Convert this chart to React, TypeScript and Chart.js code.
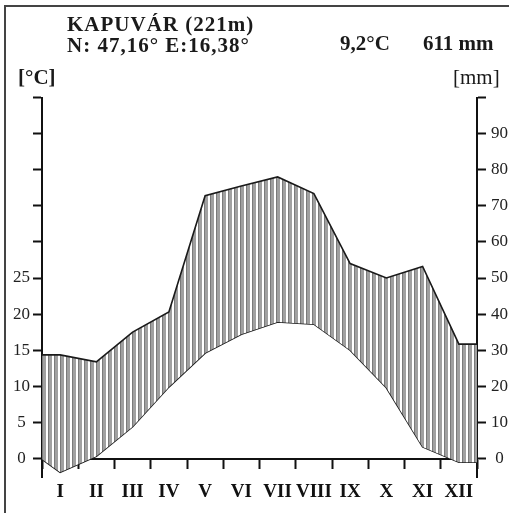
import React, { useEffect, useRef } from 'react';
import { Chart, registerables } from 'chart.js';

Chart.register(...registerables);

// ---- data ----
const months = ['I', 'II', 'III', 'IV', 'V', 'VI', 'VII', 'VIII', 'IX', 'X', 'XI', 'XII'];
const temperature = [-1.9, 0.3, 4.4, 9.9, 14.6, 17.2, 18.9, 18.6, 15.0, 9.8, 1.6, -0.5];
const precipitation = [28.7, 26.8, 35.0, 40.6, 72.8, 75.5, 78.0, 73.4, 54.0, 50.0, 53.2, 31.7];
// values drawn at the left (start of January) and right (end of December) edges
const temperatureEdges = [-0.1, -0.5];
const precipitationEdges = [28.7, 31.7];
const temperatureTicks = [0, 5, 10, 15, 20, 25, 30, 35, 40, 45, 50];
const precipitationTicks = [0, 10, 20, 30, 40, 50, 60, 70, 80, 90, 100];
const temperatureLabelMax = 25;
const precipitationLabelMax = 90;

const stationName = 'KAPUVÁR (221m)';
const stationCoords = 'N: 47,16° E:16,38°';
const annualTemp = '9,2°C';
const annualPrecip = '611 mm';
const tempUnit = '[°C]';
const precipUnit = '[mm]';

const FONT = "'Liberation Serif', 'Times New Roman', 'DejaVu Serif', serif";

function buildPoints(values: number[], edges: number[]) {
  const pts = [{ x: 0, y: edges[0] }];
  values.forEach((v, i) => pts.push({ x: i + 0.5, y: v }));
  pts.push({ x: months.length, y: edges[1] });
  return pts;
}

export default function App() {
  const canvasRef = useRef<HTMLCanvasElement | null>(null);

  useEffect(() => {
    document.body.style.margin = '0';
    const canvas = canvasRef.current;
    if (!canvas) return;

    const pc = document.createElement('canvas');
    pc.width = 6;
    pc.height = 4;
    const pctx = pc.getContext('2d')!;
    pctx.fillStyle = '#ffffff';
    pctx.fillRect(0, 0, 6, 4);
    pctx.fillStyle = '#a0a0a0';
    pctx.fillRect(0, 0, 4, 4);
    pctx.fillStyle = '#7a7a7a';
    pctx.fillRect(0, 0, 1, 4);
    const ctx = canvas.getContext('2d')!;
    const pattern = ctx.createPattern(pc, 'repeat');

    const chart = new Chart(canvas, {
      type: 'line',
      data: {
        datasets: [
          {
            label: 'precipitation',
            data: buildPoints(precipitation, precipitationEdges),
            yAxisID: 'y2',
            borderColor: '#1a1a1a',
            borderWidth: 1.6,
            pointRadius: 0,
            tension: 0,
            fill: 1,
            backgroundColor: pattern as any,
          },
          {
            label: 'temperature',
            data: buildPoints(temperature, temperatureEdges),
            yAxisID: 'y',
            borderColor: '#1a1a1a',
            borderWidth: 1.6,
            pointRadius: 0,
            tension: 0,
            fill: false,
          },
        ],
      },
      options: {
        animation: false,
        responsive: false,
        events: [],
        layout: { padding: { left: 0, right: 0, top: 97.5, bottom: 35.7 } },
        plugins: { legend: { display: false }, tooltip: { enabled: false }, title: { display: false } },
        scales: {
          x: {
            type: 'linear',
            min: 0,
            max: 12,
            position: { y: 0 } as any,
            afterBuildTicks: (s: any) => {
              const t = [];
              for (let i = 0; i <= months.length * 2; i++) t.push({ value: i / 2 });
              s.ticks = t;
            },
            ticks: {
              autoSkip: false,
              maxRotation: 0,
              minRotation: 0,
              padding: 13,
              color: '#111',
              font: { size: 19, weight: 'bold', family: FONT },
              callback: (v: any) => {
                const n = Number(v);
                return n % 1 === 0.5 ? months[Math.floor(n)] : '';
              },
            },
            grid: {
              drawOnChartArea: false,
              drawTicks: true,
              tickLength: 9,
              tickWidth: 2,
              tickColor: (c: any) => (c.tick && c.tick.value % 1 === 0 ? '#111' : 'rgba(0,0,0,0)'),
            },
            border: { display: true, color: '#111', width: 2 },
          },
          y: {
            type: 'linear',
            position: 'left',
            min: -2.6,
            max: 50,
            afterBuildTicks: (s: any) => {
              s.ticks = temperatureTicks.map((v) => ({ value: v }));
            },
            afterFit: (s: any) => {
              s.width = 42;
            },
            ticks: {
              autoSkip: false,
              padding: 3,
              crossAlign: 'center',
              color: '#222',
              font: { size: 17, family: FONT },
              callback: (v: any) => (Number(v) <= temperatureLabelMax ? String(v) : ''),
            },
            grid: { drawOnChartArea: false, tickLength: 9, tickWidth: 2, tickColor: '#111' },
            border: { display: true, color: '#111', width: 2 },
          },
          y2: {
            type: 'linear',
            position: 'right',
            min: -5.2,
            max: 100,
            afterBuildTicks: (s: any) => {
              s.ticks = precipitationTicks.map((v) => ({ value: v }));
            },
            afterFit: (s: any) => {
              s.width = 32;
            },
            ticks: {
              autoSkip: false,
              padding: 5,
              crossAlign: 'center',
              color: '#222',
              font: { size: 17, family: FONT },
              callback: (v: any) => (Number(v) <= precipitationLabelMax ? String(v) : ''),
            },
            grid: { drawOnChartArea: false, tickLength: 9, tickWidth: 2, tickColor: '#111' },
            border: { display: true, color: '#111', width: 2 },
          },
        },
      },
    });

    return () => chart.destroy();
  }, []);

  const textBase: React.CSSProperties = {
    position: 'absolute',
    fontFamily: FONT,
    fontSize: 21,
    lineHeight: '21px',
    color: '#1a1a1a',
    whiteSpace: 'nowrap',
  };

  return (
    <div style={{ position: 'relative', width: 509, height: 513, background: '#fff', overflow: 'hidden' }}>
      <canvas ref={canvasRef} width={509} height={513} style={{ position: 'absolute', left: 0, top: 0, width: 509, height: 513 }} />
      <div
        style={{
          position: 'absolute',
          left: 4,
          top: 5,
          width: 520,
          height: 520,
          borderLeft: '2px solid #444',
          borderTop: '2px solid #444',
          pointerEvents: 'none',
        }}
      />
      <div style={{ ...textBase, left: 67, top: 13.5, fontWeight: 'bold', letterSpacing: 1 }}>{stationName}</div>
      <div style={{ ...textBase, left: 67, top: 35, fontWeight: 'bold', letterSpacing: 1 }}>{stationCoords}</div>
      <div style={{ ...textBase, left: 340, top: 33, fontWeight: 'bold' }}>{annualTemp}</div>
      <div style={{ ...textBase, left: 423, top: 33, fontWeight: 'bold' }}>{annualPrecip}</div>
      <div style={{ ...textBase, left: 18, top: 67, fontWeight: 'bold' }}>{tempUnit}</div>
      <div style={{ ...textBase, left: 453, top: 67 }}>{precipUnit}</div>
    </div>
  );
}
